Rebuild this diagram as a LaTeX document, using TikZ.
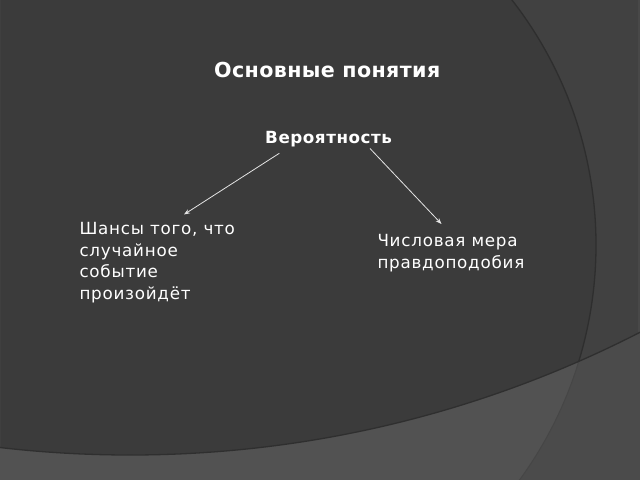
\documentclass[tikz,border=0pt]{standalone}
\usepackage{fontspec}
\setmainfont{DejaVu Sans}
\newfontfamily\titlefam[LetterSpace=1.8]{DejaVu Sans}
\newfontfamily\headfam[LetterSpace=3.3]{DejaVu Sans}
\newfontfamily\bodyfam[LetterSpace=4.5]{DejaVu Sans}
\usetikzlibrary{arrows.meta}
\definecolor{bgout}{HTML}{414141}
\definecolor{bgmain}{HTML}{3B3B3B}
\definecolor{bandin}{HTML}{525252}
\definecolor{bandout}{HTML}{4B4B4B}
\definecolor{edgedark}{HTML}{2E2E2E}
\definecolor{edgelight}{HTML}{464646}
\definecolor{stripcol}{HTML}{484848}
\definecolor{arrowcol}{HTML}{E4E4E4}
\tikzset{
  titletext/.style={anchor=base west, inner sep=0pt, text=white, font=\titlefam\bfseries\fontsize{20.7}{25}\selectfont},
  headtext/.style={anchor=base west, inner sep=0pt, text=white, font=\headfam\bfseries\fontsize{16.8}{20}\selectfont},
  bodytext/.style={anchor=base west, inner sep=0pt, text=white, align=left, font=\bodyfam\fontsize{16.8}{21.6}\selectfont},
  arrowline/.style={draw=arrowcol, line width=0.8bp, -{Stealth[length=6bp,width=4.5bp]}},
}
\begin{document}
\begin{tikzpicture}[x=1bp,y=-1bp]
\useasboundingbox (0,0) rectangle (640,480);
% background
\fill[bgout] (0,0) rectangle (640,480);
\fill[stripcol] (637.5,0) rectangle (640,480);
\begin{scope}
  \clip (0,0) rectangle (640,480);
  \fill[bgmain] (197,245) circle (399);
  % band below the lower curve
  \fill[bandout, even odd rule] (0,0) rectangle (640,480) (130,-664) circle (1119);
  \begin{scope}
    \clip (197,245) circle (399);
    \fill[bandin, even odd rule] (0,0) rectangle (640,480) (130,-664) circle (1119);
  \end{scope}
  % circle outline
  \begin{scope}
    \clip (130,-664) circle (1119);
    \draw[edgedark, line width=1.3bp] (197,245) circle (399);
  \end{scope}
  \begin{scope}[even odd rule]
    \clip (0,0) rectangle (640,480) (130,-664) circle (1119);
    \draw[edgelight, line width=1bp] (197,245) circle (399);
  \end{scope}
  \draw[edgedark!90!bgmain, line width=1.3bp] (130,-664) circle (1119);
\end{scope}
% texts (multi-line nodes are placed by the baseline of their last line)
\node[titletext] (title) at (214,78) {Основные понятия};
\node[headtext] (ver) at (265,143.3) {Вероятность};
\node[bodytext] (chance) at (79.3,299.5) {Шансы того, что\\случайное\\событие\\произойдёт};
\node[bodytext] (measure) at (377.3,268.3) {Числовая мера\\правдоподобия};
% connectors
\coordinate (vl) at (279.3,153.3);
\coordinate (vr) at (370,148.5);
\coordinate (cl) at (184,214.5);
\coordinate (cr) at (441.5,224);
\draw[arrowline] (vl) -- (cl);
\draw[arrowline] (vr) -- (cr);
\end{tikzpicture}
\end{document}
